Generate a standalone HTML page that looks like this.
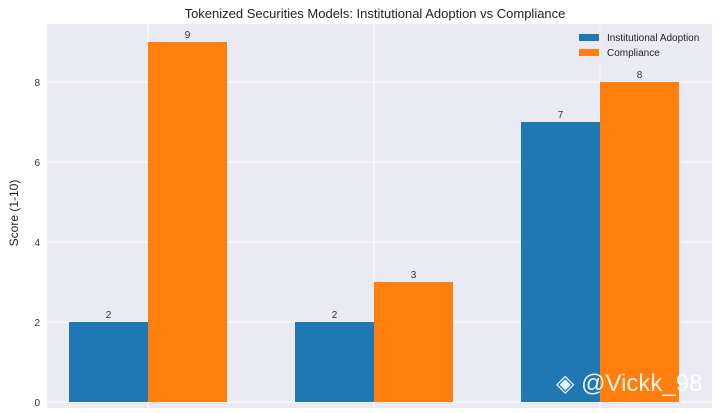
<!DOCTYPE html>
<html><head><meta charset="utf-8"><style>
body{margin:0;background:#fff;}
svg text{font-family:"Liberation Sans","DejaVu Sans",sans-serif;}
</style></head><body>
<svg id="c" width="720" height="408" viewBox="0 0 720 408">
<rect x="0" y="0" width="720" height="408" fill="#fff"/>
<text x="375" y="18" font-size="13" text-anchor="middle" fill="#222">Tokenized Securities Models: Institutional Adoption vs Compliance</text>
<rect x="47" y="24" width="665" height="384" fill="#eaeaf2"/>
<g id="grid"></g><g id="bars"></g><g id="labels"></g>
<text transform="translate(18,213) rotate(-90)" font-size="12" text-anchor="middle" fill="#222">Score (1-10)</text>
<g>
<rect x="574" y="28" width="136" height="36" fill="#eaeaf2" opacity="0.8"/>
<rect x="579" y="34" width="20" height="7" fill="#1f77b4"/>
<text x="607" y="41" font-size="10" fill="#222">Institutional Adoption</text>
<rect x="579" y="49" width="20" height="7" fill="#ff7f0e"/>
<text x="607" y="56" font-size="10" fill="#222">Compliance</text>
</g>
<text x="556" y="391" font-size="24" fill="#fff" opacity="0.9">◈ @Vickk_98</text>
</svg>
<script>
const categories=["Model A","Model B","Model C"];
const adoption=[2,2,7];
const compliance=[9,3,8];
const yTicks=[0,2,4,6,8];
const NS="http://www.w3.org/2000/svg";
const y=v=>402-v*40;
const xc=i=>148+i*226;
const bw=79;
function mk(tag,attrs,parent){const e=document.createElementNS(NS,tag);for(const k in attrs)e.setAttribute(k,attrs[k]);parent.appendChild(e);return e;}
const grid=document.getElementById('grid'),bars=document.getElementById('bars'),labels=document.getElementById('labels'),svg=document.getElementById('c');
yTicks.forEach(t=>{
 const l=mk('line',{x1:47,x2:712,y1:y(t),y2:y(t),stroke:'#fff','stroke-width':1},grid);
 
 
 const tx=mk('text',{x:40,y:y(t)+4,'font-size':10,'text-anchor':'end',fill:'#333'},svg);
 tx.textContent=t;
 
 
});
categories.forEach((c,i)=>{
 const l=mk('line',{x1:xc(i),x2:xc(i),y1:24,y2:408,stroke:'#fff','stroke-width':1},grid);
 
 
 [[adoption,'#1f77b4',-bw,'adoption'],[compliance,'#ff7f0e',0,'compliance']].forEach(([arr,col,off,nm])=>{
  const v=arr[i];
  const r=mk('rect',{x:xc(i)+off,y:y(v),width:bw,height:y(0)-y(v),fill:col},bars);
  
  
  const t=mk('text',{x:xc(i)+off+bw/2,y:y(v)-4,'font-size':10,'text-anchor':'middle',fill:'#333'},labels);
  t.textContent=v;
  
  
 });
});
</script>
</body></html>
